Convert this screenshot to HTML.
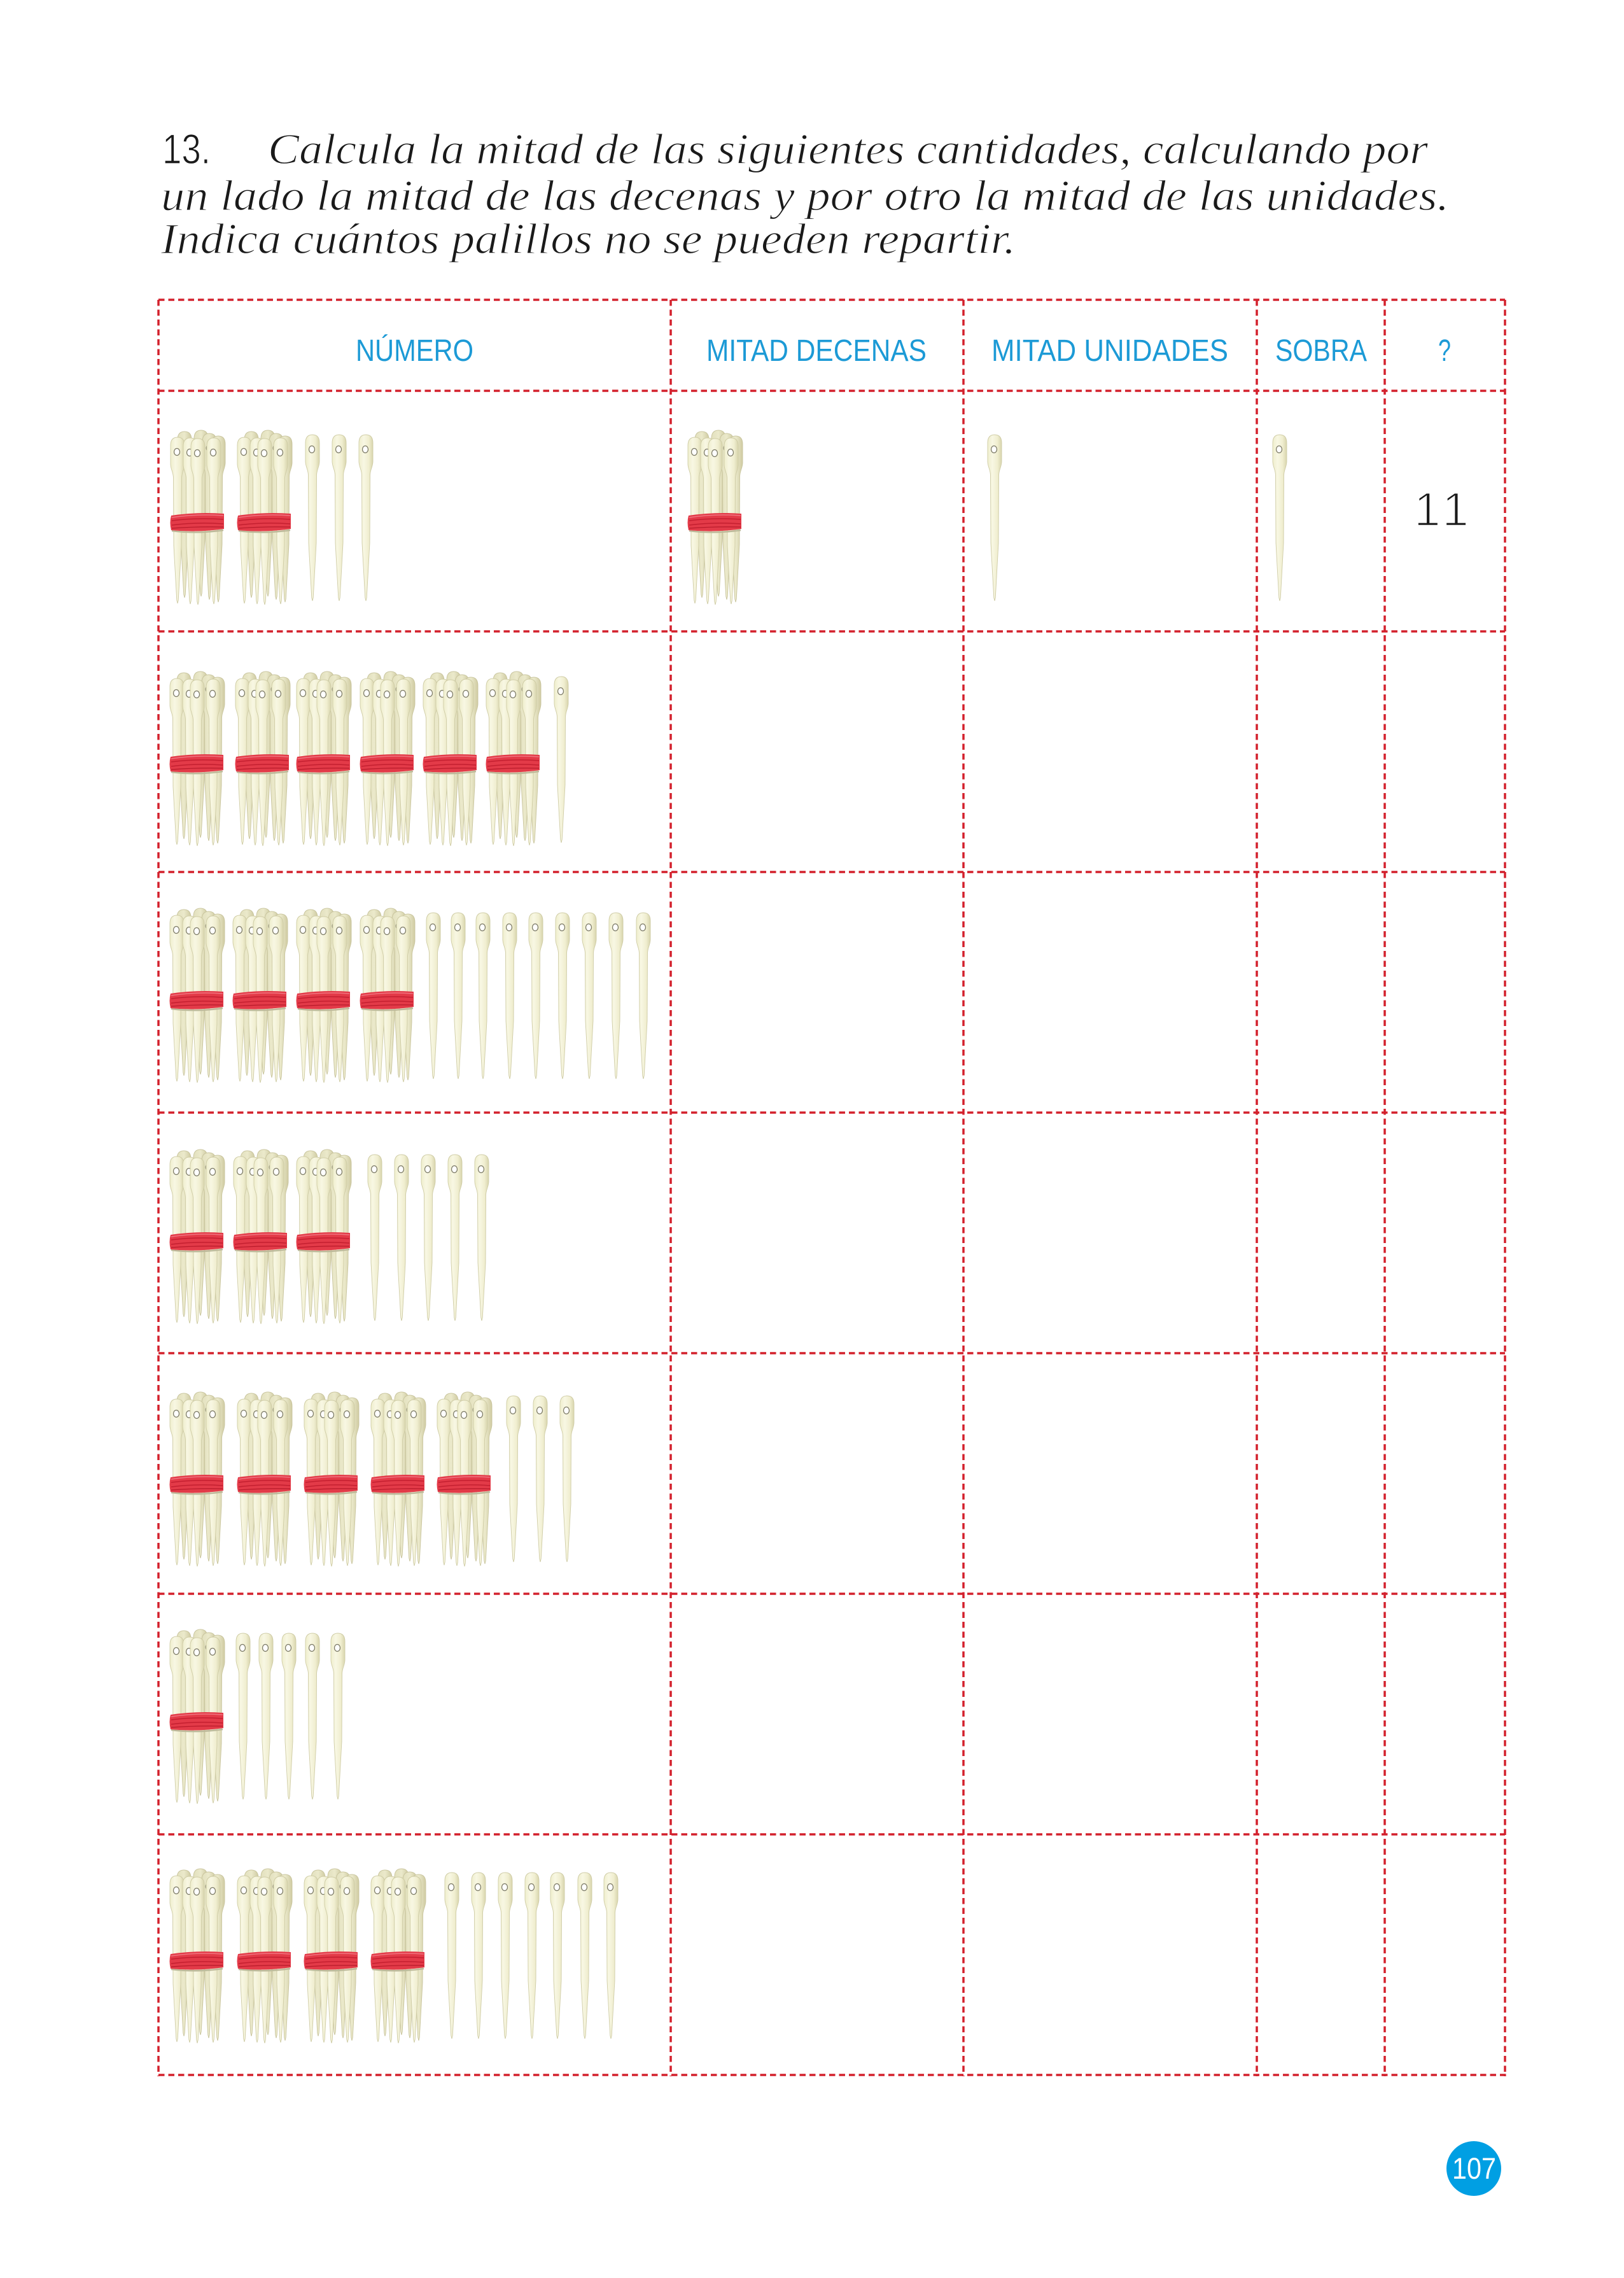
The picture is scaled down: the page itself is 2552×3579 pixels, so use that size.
<!DOCTYPE html>
<html>
<head>
<meta charset="utf-8">
<style>
  html,body{margin:0;padding:0;background:#fff;}
  body{width:2552px;height:3579px;overflow:hidden;}
  svg{display:block;}
</style>
</head>
<body>
<svg width="2552" height="3579" viewBox="0 0 2552 3579" xmlns="http://www.w3.org/2000/svg">
  <defs>
    <linearGradient id="gl" x1="0" x2="1" y1="0" y2="0">
      <stop offset="0" stop-color="#efeecd"/>
      <stop offset="0.35" stop-color="#f8f7e3"/>
      <stop offset="0.7" stop-color="#f0eed0"/>
      <stop offset="1" stop-color="#d8d5ad"/>
    </linearGradient>
    <linearGradient id="gd" x1="0" x2="1" y1="0" y2="0">
      <stop offset="0" stop-color="#e2e0bd"/>
      <stop offset="0.5" stop-color="#ebe9cb"/>
      <stop offset="1" stop-color="#cfcba2"/>
    </linearGradient>
    <path id="np" d="M-11,13 C-11,3 -6,0 0,0 C6,0 11,3 11,13 L11,42 C11,50 6.5,55 6.5,64 L6,170 L1.2,256 L0,261 L-1.2,256 L-6,170 L-6.5,64 C-6.5,55 -11,50 -11,42 Z"/>
    <g id="n">
      <use href="#np" fill="url(#gl)" stroke="#cfcca6" stroke-width="0.9"/>
      <ellipse cx="-1" cy="23" rx="4.5" ry="5.5" fill="#ffffff" stroke="#7d7b66" stroke-width="1.3"/>
    </g>
    <g id="nb">
      <use href="#np" fill="url(#gd)" stroke="#c9c59e" stroke-width="0.9"/>
      <ellipse cx="-1" cy="23" rx="4" ry="5" fill="#d8d6b8" stroke="#8a8870" stroke-width="1"/>
    </g>
    <g id="b">
      <use href="#nb" x="24" y="2"/>
      <use href="#nb" x="50" y="0"/>
      <use href="#nb" x="63" y="5"/>
      <use href="#nb" x="77" y="9"/>
      <use href="#n" x="13" y="11"/>
      <use href="#n" x="33" y="12"/>
      <use href="#n" x="45" y="13"/>
      <use href="#n" x="70" y="12"/>
      <path d="M4,158 Q44,163 85,157" stroke="#bdb99a" stroke-width="2.5" fill="none"/>
      <path d="M3,134 Q44,128 86,131 L86,155 Q44,161 3,157 Q0,145 3,134 Z" fill="#e33a48"/>
      <path d="M4,137 Q44,131 85,134" stroke="#f07580" stroke-width="1.5" fill="none"/>
      <path d="M4,142 Q44,137 85,140" stroke="#c41f30" stroke-width="1.5" fill="none"/>
      <path d="M4,149 Q44,144 85,147" stroke="#c41f30" stroke-width="1.5" fill="none"/>
      <path d="M4,154 Q44,151 85,152" stroke="#b81a2a" stroke-width="1.2" fill="none"/>
    </g>
  </defs>

  <!-- Title -->
  <g font-family="'Liberation Serif', serif" font-style="italic" font-size="68" fill="#1a1a1a" stroke="#ffffff" stroke-width="1.2">
    <text x="255" y="257" textLength="76" lengthAdjust="spacingAndGlyphs" font-style="normal" font-family="'Liberation Sans', sans-serif" font-size="66">13.</text>
    <text x="421" y="257" textLength="1823" lengthAdjust="spacingAndGlyphs">Calcula la mitad de las siguientes cantidades,  calculando por</text>
    <text x="253" y="330" textLength="2024" lengthAdjust="spacingAndGlyphs">un lado la mitad de las decenas y por otro la mitad de las unidades.</text>
    <text x="253" y="398" textLength="1343" lengthAdjust="spacingAndGlyphs">Indica cuántos palillos no se pueden repartir.</text>
  </g>

  <!-- Header text -->
  <g font-family="'Liberation Sans', sans-serif" font-size="48" fill="#1c9ad6">
    <text x="559" y="567" textLength="185" lengthAdjust="spacingAndGlyphs">NÚMERO</text>
    <text x="1110" y="567" textLength="346" lengthAdjust="spacingAndGlyphs">MITAD DECENAS</text>
    <text x="1558" y="567" textLength="372" lengthAdjust="spacingAndGlyphs">MITAD UNIDADES</text>
    <text x="2004" y="567" textLength="144" lengthAdjust="spacingAndGlyphs">SOBRA</text>
    <text x="2260" y="567" textLength="20" lengthAdjust="spacingAndGlyphs">?</text>
  </g>

  <!-- Table grid -->
  <g stroke="#d3202c" stroke-width="3.5" stroke-dasharray="9.5 6" fill="none">
    <line x1="249" y1="471" x2="2365" y2="471"/>
    <line x1="249" y1="614" x2="2365" y2="614"/>
    <line x1="249" y1="992" x2="2365" y2="992"/>
    <line x1="249" y1="1370" x2="2365" y2="1370"/>
    <line x1="249" y1="1748" x2="2365" y2="1748"/>
    <line x1="249" y1="2126" x2="2365" y2="2126"/>
    <line x1="249" y1="2504" x2="2365" y2="2504"/>
    <line x1="249" y1="2882" x2="2365" y2="2882"/>
    <line x1="249" y1="3260" x2="2367" y2="3260"/>
    <line x1="249" y1="471" x2="249" y2="3262"/>
    <line x1="1054" y1="471" x2="1054" y2="3262"/>
    <line x1="1514" y1="471" x2="1514" y2="3262"/>
    <line x1="1975" y1="471" x2="1975" y2="3262"/>
    <line x1="2176" y1="471" x2="2176" y2="3262"/>
    <line x1="2365" y1="471" x2="2365" y2="3262"/>
  </g>

  <!-- Row 1 -->
  <use href="#b" x="266" y="676"/>
  <use href="#b" x="371" y="676"/>
  <use href="#n" x="491" y="683"/>
  <use href="#n" x="533" y="683"/>
  <use href="#n" x="575" y="683"/>
  <use href="#b" x="1079" y="676"/>
  <use href="#n" x="1563" y="683"/>
  <use href="#n" x="2011" y="683"/>
  <text x="2222" y="826" font-family="'Liberation Sans', sans-serif" font-size="75" fill="#1a1a1a" stroke="#ffffff" stroke-width="2.4" textLength="86" lengthAdjust="spacing">1  1</text>

  <!-- Row 2 -->
  <use href="#b" x="265" y="1055"/>
  <use href="#b" x="368" y="1055"/>
  <use href="#b" x="464" y="1055"/>
  <use href="#b" x="564" y="1055"/>
  <use href="#b" x="663" y="1055"/>
  <use href="#b" x="762" y="1055"/>
  <use href="#n" x="882" y="1063"/>

  <!-- Row 3 -->
  <use href="#b" x="265" y="1427"/>
  <use href="#b" x="364" y="1427"/>
  <use href="#b" x="464" y="1427"/>
  <use href="#b" x="564" y="1427"/>
  <use href="#n" x="681" y="1434"/>
  <use href="#n" x="720" y="1434"/>
  <use href="#n" x="759" y="1434"/>
  <use href="#n" x="801" y="1434"/>
  <use href="#n" x="842" y="1434"/>
  <use href="#n" x="884" y="1434"/>
  <use href="#n" x="926" y="1434"/>
  <use href="#n" x="968" y="1434"/>
  <use href="#n" x="1011" y="1434"/>

  <!-- Row 4 -->
  <use href="#b" x="265" y="1806"/>
  <use href="#b" x="365" y="1806"/>
  <use href="#b" x="464" y="1806"/>
  <use href="#n" x="589" y="1814"/>
  <use href="#n" x="631" y="1814"/>
  <use href="#n" x="673" y="1814"/>
  <use href="#n" x="715" y="1814"/>
  <use href="#n" x="757" y="1814"/>

  <!-- Row 5 -->
  <use href="#b" x="265" y="2187"/>
  <use href="#b" x="371" y="2187"/>
  <use href="#b" x="476" y="2187"/>
  <use href="#b" x="581" y="2187"/>
  <use href="#b" x="685" y="2187"/>
  <use href="#n" x="807" y="2193"/>
  <use href="#n" x="849" y="2193"/>
  <use href="#n" x="891" y="2193"/>

  <!-- Row 6 -->
  <use href="#b" x="265" y="2560"/>
  <use href="#n" x="382" y="2566"/>
  <use href="#n" x="418" y="2566"/>
  <use href="#n" x="454" y="2566"/>
  <use href="#n" x="491" y="2566"/>
  <use href="#n" x="531" y="2566"/>

  <!-- Row 7 -->
  <use href="#b" x="265" y="2936"/>
  <use href="#b" x="371" y="2936"/>
  <use href="#b" x="476" y="2936"/>
  <use href="#b" x="581" y="2936"/>
  <use href="#n" x="710" y="2942"/>
  <use href="#n" x="752" y="2942"/>
  <use href="#n" x="794" y="2942"/>
  <use href="#n" x="836" y="2942"/>
  <use href="#n" x="876" y="2942"/>
  <use href="#n" x="919" y="2942"/>
  <use href="#n" x="960" y="2942"/>

  <!-- Page number -->
  <circle cx="2316" cy="3407" r="43" fill="#009fe3"/>
  <text x="2282" y="3423" font-family="'Liberation Sans', sans-serif" font-size="47" fill="#ffffff" textLength="69" lengthAdjust="spacingAndGlyphs">107</text>
</svg>
</body>
</html>
